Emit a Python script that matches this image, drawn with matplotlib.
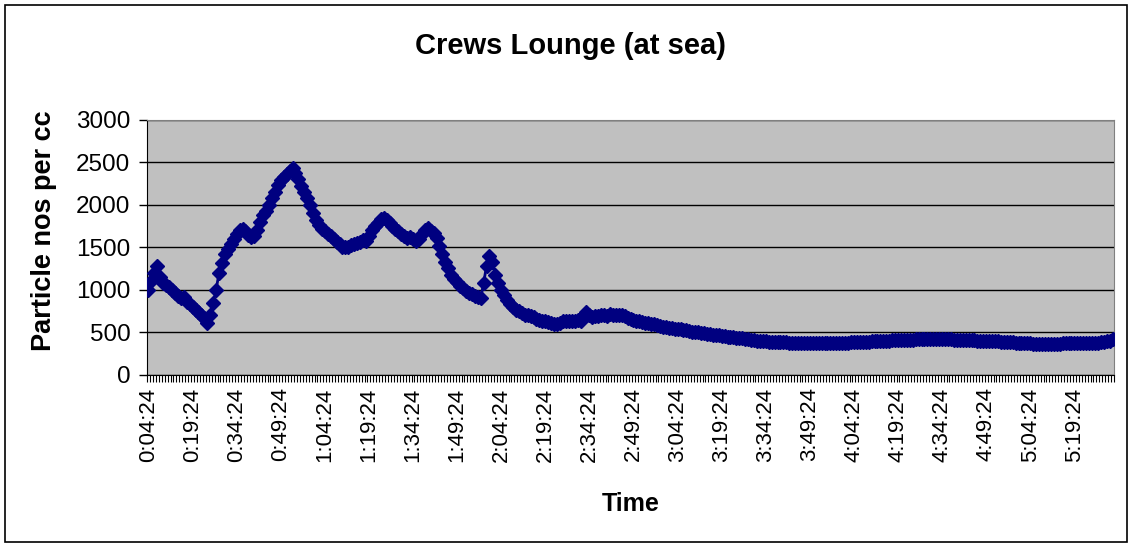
import numpy as np
import matplotlib.pyplot as plt
from matplotlib.patches import Rectangle

plt.rcParams['font.family'] = ['Liberation Sans', 'DejaVu Sans']

# particle counts, one reading per minute from 0:04:24
counts = [
    1000, 1100, 1200, 1280, 1150, 1080, 1060, 1030, 1000, 970,
    930, 910, 920, 860, 830, 800, 770, 740, 710, 670,
    610, 700, 850, 1000, 1200, 1320, 1420, 1480, 1540, 1600,
    1660, 1700, 1720, 1690, 1650, 1620, 1640, 1700, 1800, 1880,
    1930, 2000, 2080, 2150, 2230, 2290, 2330, 2370, 2400, 2440,
    2380, 2300, 2220, 2150, 2080, 2000, 1900, 1820, 1760, 1720,
    1690, 1660, 1630, 1600, 1570, 1540, 1510, 1500, 1510, 1530,
    1540, 1550, 1570, 1590, 1580, 1640, 1700, 1750, 1790, 1830,
    1850, 1820, 1790, 1750, 1720, 1690, 1660, 1630, 1610, 1620,
    1600, 1580, 1600, 1660, 1710, 1730, 1690, 1670, 1610, 1520,
    1420, 1330, 1260, 1180, 1130, 1090, 1050, 1020, 990, 970,
    950, 930, 920, 900, 1080, 1280, 1400, 1330, 1180, 1080,
    1000, 940, 880, 840, 800, 770, 750, 730, 710, 700,
    690, 680, 660, 650, 640, 630, 620, 610, 600, 600,
    610, 630, 640, 640, 630, 640, 650, 640, 700, 740,
    700, 680, 690, 690, 700, 700, 690, 720, 700, 700,
    710, 700, 690, 670, 660, 650, 640, 630, 620, 610,
    610, 600, 600, 590, 580, 570, 560, 555, 550, 545,
    540, 535, 530, 525, 520, 510, 505, 500, 495, 490,
    485, 480, 475, 470, 465, 460, 455, 452, 450, 445,
    440, 435, 430, 425, 420, 415, 410, 405, 400, 398,
    395, 392, 390, 388, 386, 385, 384, 383, 382, 381,
    380, 380, 378, 377, 376, 375, 375, 374, 373, 372,
    372, 371, 372, 372, 374, 376, 378, 380, 382, 384,
    386, 388, 390, 391, 392, 393, 395, 397, 398, 400,
    402, 404, 405, 406, 407, 408, 410, 410, 412, 414,
    416, 418, 420, 422, 423, 424, 424, 425, 424, 423,
    422, 421, 420, 418, 417, 416, 415, 414, 412, 410,
    408, 406, 404, 402, 400, 399, 398, 396, 395, 394,
    392, 390, 388, 386, 384, 382, 380, 378, 376, 374,
    372, 370, 368, 367, 366, 365, 364, 364, 365, 367,
    369, 371, 372, 374, 375, 376, 377, 378, 378, 379,
    380, 380, 381, 382, 384, 388, 395, 405, 420,
]

tick_labels = ['0:04:24', '0:19:24', '0:34:24', '0:49:24', '1:04:24', '1:19:24',
               '1:34:24', '1:49:24', '2:04:24', '2:19:24', '2:34:24', '2:49:24',
               '3:04:24', '3:19:24', '3:34:24', '3:49:24', '4:04:24', '4:19:24',
               '4:34:24', '4:49:24', '5:04:24', '5:19:24']
label_step = 15

n = len(counts)
x = np.arange(n)

fig = plt.figure(figsize=(11.3, 5.44), dpi=100)
fig.patches.append(Rectangle((0.004, 0.004), 0.993, 0.987, transform=fig.transFigure,
                             fill=False, edgecolor='black', linewidth=1.2))

ax = fig.add_axes([0.1301, 0.3107, 0.8558, 0.4688])
ax.set_facecolor('#c0c0c0')
ax.plot(x, counts, color='#000080', lw=2, marker='D', ms=6.8,
        mfc='#000080', mec='#000080', zorder=3)

ax.set_xlim(-0.5, n - 0.5)
ax.set_ylim(0, 3000)
ax.set_yticks(np.arange(0, 3001, 500))
ax.yaxis.grid(True, color='black', lw=1)
ax.set_axisbelow(True)

ax.set_xticks(np.arange(len(tick_labels)) * label_step)
ax.set_xticklabels(tick_labels, rotation=90)
ax.set_xticks(np.arange(n + 1) - 0.5, minor=True)
ax.tick_params(axis='x', which='major', length=0, labelsize=16, pad=9)
ax.tick_params(axis='x', which='minor', length=5, width=0.8, direction='out')
ax.tick_params(axis='y', length=6, width=1, labelsize=17.5, pad=6)

for s in ['top', 'right']:
    ax.spines[s].set_color('#808080')
ax.spines['left'].set_color('black')
ax.spines['bottom'].set_color('black')

fig.text(0.505, 0.915, 'Crews Lounge (at sea)', fontsize=21, fontweight='bold',
         ha='center', va='center')
ax.set_xlabel('Time', fontsize=18, fontweight='bold', labelpad=22)
ax.set_ylabel('Particle nos per cc', fontsize=19.5, fontweight='bold')
ax.yaxis.set_label_coords(-0.093, 0.565)

fig.savefig('out.png', dpi=100)
